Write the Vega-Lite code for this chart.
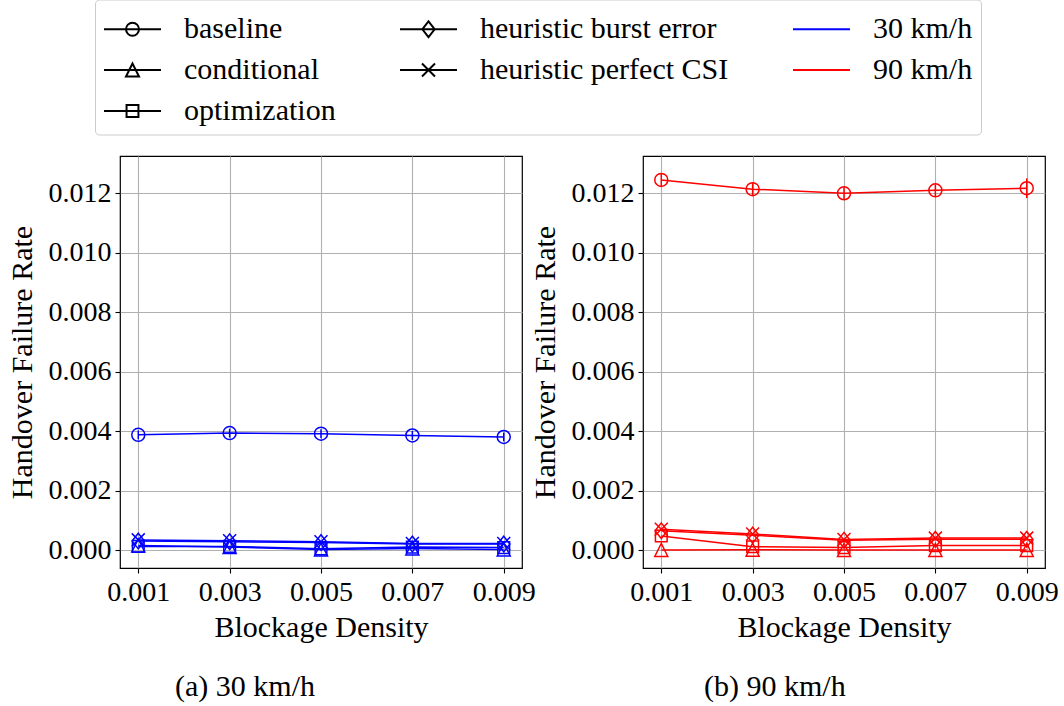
{
  "$schema": "https://vega.github.io/schema/vega-lite/v6.json",
  "autosize": {"type": "none"},
  "padding": {"left": 120, "top": 156, "right": 944, "bottom": 550},
  "background": "#ffffff",
  "config": {
    "font": "Liberation Serif",
    "view": {"stroke": "#000000", "strokeWidth": 1.2},
    "axis": {
      "labelFont": "Liberation Serif",
      "labelFontSize": 28,
      "labelColor": "#000000",
      "titleFont": "Liberation Serif",
      "titleFontSize": 30,
      "titleFontWeight": "normal",
      "titleColor": "#000000",
      "domain": false,
      "tickColor": "#000000",
      "tickSize": 5,
      "tickWidth": 1.1,
      "gridColor": "#b0b0b0",
      "gridWidth": 1.1,
      "gridOpacity": 1
    },
    "axisX": {"labelPadding": 5, "titlePadding": 6},
    "axisY": {"labelPadding": 4, "titlePadding": 11},
    "legend": {
      "title": null,
      "orient": "none",
      "direction": "horizontal",
      "columns": 3,
      "columnPadding": 60,
      "rowPadding": 4,
      "symbolSize": 1681,
      "symbolOffset": 8,
      "symbolOpacity": 1,
      "symbolStrokeWidth": 2,
      "symbolFillColor": "transparent",
      "labelOffset": 30,
      "labelFont": "Liberation Serif",
      "labelFontSize": 30,
      "labelColor": "#000000",
      "labelLimit": 400,
      "strokeColor": "#cccccc",
      "fillColor": "#ffffff",
      "padding": 8,
      "cornerRadius": 4
    },
    "title": {"font": "Liberation Serif", "fontSize": 30, "fontWeight": "normal", "color": "#000000"}
  },
  "data": {
    "values": [
      {"speed": "30 km/h", "method": "baseline", "x": 0.001, "v": 0.00387, "err": 0.00015},
      {"speed": "30 km/h", "method": "baseline", "x": 0.003, "v": 0.00393, "err": 0.00015},
      {"speed": "30 km/h", "method": "baseline", "x": 0.005, "v": 0.00391, "err": 0.00015},
      {"speed": "30 km/h", "method": "baseline", "x": 0.007, "v": 0.00385, "err": 0.00015},
      {"speed": "30 km/h", "method": "baseline", "x": 0.009, "v": 0.00380, "err": 0.00015},
      {"speed": "30 km/h", "method": "conditional", "x": 0.001, "v": 0.00015, "err": 0},
      {"speed": "30 km/h", "method": "conditional", "x": 0.003, "v": 0.00010, "err": 0},
      {"speed": "30 km/h", "method": "conditional", "x": 0.005, "v": 0.00002, "err": 0},
      {"speed": "30 km/h", "method": "conditional", "x": 0.007, "v": 0.00005, "err": 0},
      {"speed": "30 km/h", "method": "conditional", "x": 0.009, "v": 0.00002, "err": 0},
      {"speed": "30 km/h", "method": "optimization", "x": 0.001, "v": 0.00012, "err": 0},
      {"speed": "30 km/h", "method": "optimization", "x": 0.003, "v": 0.00012, "err": 0},
      {"speed": "30 km/h", "method": "optimization", "x": 0.005, "v": 0.00004, "err": 0},
      {"speed": "30 km/h", "method": "optimization", "x": 0.007, "v": 0.00010, "err": 0},
      {"speed": "30 km/h", "method": "optimization", "x": 0.009, "v": 0.00008, "err": 0},
      {"speed": "30 km/h", "method": "heuristic burst error", "x": 0.001, "v": 0.00030, "err": 0},
      {"speed": "30 km/h", "method": "heuristic burst error", "x": 0.003, "v": 0.00028, "err": 0},
      {"speed": "30 km/h", "method": "heuristic burst error", "x": 0.005, "v": 0.00025, "err": 0},
      {"speed": "30 km/h", "method": "heuristic burst error", "x": 0.007, "v": 0.00020, "err": 0},
      {"speed": "30 km/h", "method": "heuristic burst error", "x": 0.009, "v": 0.00020, "err": 0},
      {"speed": "30 km/h", "method": "heuristic perfect CSI", "x": 0.001, "v": 0.00034, "err": 0},
      {"speed": "30 km/h", "method": "heuristic perfect CSI", "x": 0.003, "v": 0.00031, "err": 0},
      {"speed": "30 km/h", "method": "heuristic perfect CSI", "x": 0.005, "v": 0.00028, "err": 0},
      {"speed": "30 km/h", "method": "heuristic perfect CSI", "x": 0.007, "v": 0.00022, "err": 0},
      {"speed": "30 km/h", "method": "heuristic perfect CSI", "x": 0.009, "v": 0.00022, "err": 0},
      {"speed": "90 km/h", "method": "baseline", "x": 0.001, "v": 0.01244, "err": 0.0002},
      {"speed": "90 km/h", "method": "baseline", "x": 0.003, "v": 0.01213, "err": 0.0002},
      {"speed": "90 km/h", "method": "baseline", "x": 0.005, "v": 0.01199, "err": 0.0002},
      {"speed": "90 km/h", "method": "baseline", "x": 0.007, "v": 0.01209, "err": 0.0002},
      {"speed": "90 km/h", "method": "baseline", "x": 0.009, "v": 0.01216, "err": 0.00033},
      {"speed": "90 km/h", "method": "conditional", "x": 0.001, "v": 0.0, "err": 0},
      {"speed": "90 km/h", "method": "conditional", "x": 0.003, "v": 0.00001, "err": 0},
      {"speed": "90 km/h", "method": "conditional", "x": 0.005, "v": 0.0, "err": 0},
      {"speed": "90 km/h", "method": "conditional", "x": 0.007, "v": 0.0, "err": 0},
      {"speed": "90 km/h", "method": "conditional", "x": 0.009, "v": 0.0, "err": 0},
      {"speed": "90 km/h", "method": "optimization", "x": 0.001, "v": 0.00047, "err": 0},
      {"speed": "90 km/h", "method": "optimization", "x": 0.003, "v": 0.00011, "err": 0},
      {"speed": "90 km/h", "method": "optimization", "x": 0.005, "v": 0.00008, "err": 0},
      {"speed": "90 km/h", "method": "optimization", "x": 0.007, "v": 0.00015, "err": 0},
      {"speed": "90 km/h", "method": "optimization", "x": 0.009, "v": 0.00015, "err": 0},
      {"speed": "90 km/h", "method": "heuristic burst error", "x": 0.001, "v": 0.00065, "err": 0},
      {"speed": "90 km/h", "method": "heuristic burst error", "x": 0.003, "v": 0.00050, "err": 0},
      {"speed": "90 km/h", "method": "heuristic burst error", "x": 0.005, "v": 0.00033, "err": 0},
      {"speed": "90 km/h", "method": "heuristic burst error", "x": 0.007, "v": 0.00036, "err": 0},
      {"speed": "90 km/h", "method": "heuristic burst error", "x": 0.009, "v": 0.00036, "err": 0},
      {"speed": "90 km/h", "method": "heuristic perfect CSI", "x": 0.001, "v": 0.00070, "err": 0},
      {"speed": "90 km/h", "method": "heuristic perfect CSI", "x": 0.003, "v": 0.00054, "err": 0},
      {"speed": "90 km/h", "method": "heuristic perfect CSI", "x": 0.005, "v": 0.00035, "err": 0},
      {"speed": "90 km/h", "method": "heuristic perfect CSI", "x": 0.007, "v": 0.00040, "err": 0},
      {"speed": "90 km/h", "method": "heuristic perfect CSI", "x": 0.009, "v": 0.00040, "err": 0}
    ]
  },
  "bounds": "flush",
  "spacing": 121,
  "resolve": {"scale": {"shape": "independent", "color": "independent"}, "legend": {"shape": "independent", "color": "independent"}},
  "hconcat": [
    {
      "width": 402,
      "height": 412,
      "title": {"text": "(a) 30 km/h", "orient": "bottom", "anchor": "start", "frame": "group", "dx": 55, "offset": 30},
      "transform": [{"filter": "datum.speed === '30 km/h'"}],
      "resolve": {"scale": {"shape": "independent", "color": "independent"}},
      "layer": [
        {
          "mark": {"type": "line", "strokeWidth": 1.5, "color": "#0000ff"},
          "encoding": {
            "x": {"field": "x", "type": "quantitative", "title": "Blockage Density", "scale": {"domain": [0.0006, 0.0094], "nice": false, "zero": false}, "axis": {"values": [0.001, 0.003, 0.005, 0.007, 0.009], "format": ".3f"}},
            "y": {"field": "v", "type": "quantitative", "title": "Handover Failure Rate", "scale": {"domain": [-0.000605, 0.013244], "nice": false, "zero": false}, "axis": {"values": [0, 0.002, 0.004, 0.006, 0.008, 0.01, 0.012], "format": ".3f"}},
            "detail": {"field": "method"}
          }
        },
        {
          "mark": {"type": "errorbar", "thickness": 1.5, "color": "#0000ff"},
          "encoding": {
            "x": {"field": "x", "type": "quantitative", "title": "Blockage Density"},
            "y": {"field": "v", "type": "quantitative", "title": "Handover Failure Rate"},
            "yError": {"field": "err"}
          }
        },
        {
          "mark": {"type": "point", "filled": false, "size": 169, "strokeWidth": 1.5, "opacity": 1, "color": "#0000ff"},
          "encoding": {
            "x": {"field": "x", "type": "quantitative", "title": "Blockage Density"},
            "y": {"field": "v", "type": "quantitative", "title": "Handover Failure Rate"},
            "shape": {
              "field": "method",
              "type": "nominal",
              "scale": {
                "domain": ["baseline", "conditional", "optimization", "heuristic burst error", "heuristic perfect CSI"],
                "range": ["circle", "M0,-1L-1,1L1,1Z", "M-0.9,-0.9L0.9,-0.9L0.9,0.9L-0.9,0.9Z", "M0,-1.2L0.95,0L0,1.2L-0.95,0Z", "M-1,-1L1,1M-1,1L1,-1"]
              },
              "legend": null
            }
          }
        },
        {
          "mark": {"type": "point", "filled": false, "size": 1681, "strokeWidth": 2, "opacity": 0},
          "encoding": {
            "x": {"field": "x", "type": "quantitative", "title": "Blockage Density"},
            "y": {"field": "v", "type": "quantitative", "title": "Handover Failure Rate"},
            "shape": {
              "field": "method",
              "type": "nominal",
              "scale": {
                "domain": ["baseline", "heuristic burst error", "30 km/h", "conditional", "heuristic perfect CSI", "90 km/h", "optimization"],
                "range": [
                  "M-1.39,0L1.39,0M-0.317,0A0.317,0.317,0,1,1,0.317,0A0.317,0.317,0,1,1,-0.317,0",
                  "M-1.39,0L1.39,0M0,-0.38L0.3,0L0,0.38L-0.3,0Z",
                  "M-1.39,0L1.39,0",
                  "M-1.39,0L1.39,0M0,-0.317L-0.317,0.317L0.317,0.317Z",
                  "M-1.39,0L1.39,0M-0.317,-0.317L0.317,0.317M-0.317,0.317L0.317,-0.317",
                  "M-1.39,0L1.39,0",
                  "M-1.39,0L1.39,0M-0.29,-0.29L0.29,-0.29L0.29,0.29L-0.29,0.29Z"
                ]
              },
              "legend": {"legendX": -25, "legendY": -156.5}
            },
            "color": {
              "field": "method",
              "type": "nominal",
              "scale": {
                "domain": ["baseline", "heuristic burst error", "30 km/h", "conditional", "heuristic perfect CSI", "90 km/h", "optimization"],
                "range": ["#000000", "#000000", "#0000ff", "#000000", "#000000", "#ff0000", "#000000"]
              },
              "legend": {"legendX": -25, "legendY": -156.5}
            }
          }
        }
      ]
    },
    {
      "width": 402,
      "height": 412,
      "title": {"text": "(b) 90 km/h", "orient": "bottom", "anchor": "start", "frame": "group", "dx": 61, "offset": 30},
      "transform": [{"filter": "datum.speed === '90 km/h'"}],
      "layer": [
        {
          "mark": {"type": "line", "strokeWidth": 1.5, "color": "#ff0000"},
          "encoding": {
            "x": {"field": "x", "type": "quantitative", "title": "Blockage Density", "scale": {"domain": [0.0006, 0.0094], "nice": false, "zero": false}, "axis": {"values": [0.001, 0.003, 0.005, 0.007, 0.009], "format": ".3f"}},
            "y": {"field": "v", "type": "quantitative", "title": "Handover Failure Rate", "scale": {"domain": [-0.000605, 0.013244], "nice": false, "zero": false}, "axis": {"values": [0, 0.002, 0.004, 0.006, 0.008, 0.01, 0.012], "format": ".3f"}},
            "detail": {"field": "method"}
          }
        },
        {
          "mark": {"type": "errorbar", "thickness": 1.5, "color": "#ff0000"},
          "encoding": {
            "x": {"field": "x", "type": "quantitative", "title": "Blockage Density"},
            "y": {"field": "v", "type": "quantitative", "title": "Handover Failure Rate"},
            "yError": {"field": "err"}
          }
        },
        {
          "mark": {"type": "point", "filled": false, "size": 169, "strokeWidth": 1.5, "opacity": 1, "color": "#ff0000"},
          "encoding": {
            "x": {"field": "x", "type": "quantitative", "title": "Blockage Density"},
            "y": {"field": "v", "type": "quantitative", "title": "Handover Failure Rate"},
            "shape": {
              "field": "method",
              "type": "nominal",
              "scale": {
                "domain": ["baseline", "conditional", "optimization", "heuristic burst error", "heuristic perfect CSI"],
                "range": ["circle", "M0,-1L-1,1L1,1Z", "M-0.9,-0.9L0.9,-0.9L0.9,0.9L-0.9,0.9Z", "M0,-1.2L0.95,0L0,1.2L-0.95,0Z", "M-1,-1L1,1M-1,1L1,-1"]
              },
              "legend": null
            }
          }
        }
      ]
    }
  ]
}
